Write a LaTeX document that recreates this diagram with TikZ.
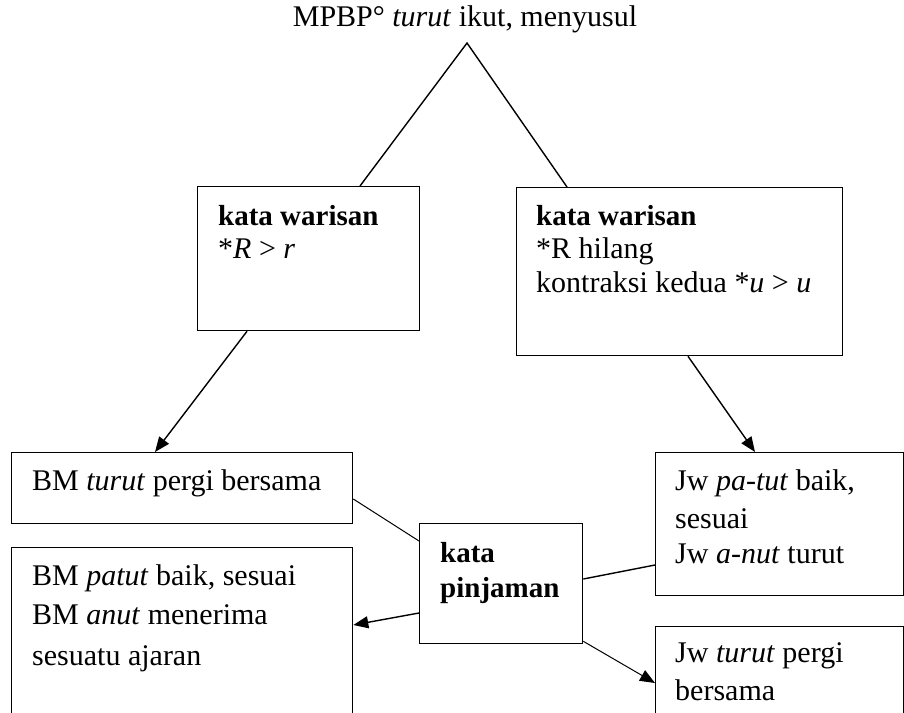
\documentclass[tikz,border=0pt]{standalone}
\usepackage{fontspec}
\setmainfont{Liberation Serif}
\usetikzlibrary{arrows.meta,calc}
\newcommand{\bld}[1]{{\fontsize{29}{34}\selectfont\bfseries #1}}
\begin{document}
\begin{tikzpicture}[x=1pt,y=-1pt,
  box/.style={draw,line width=1.3pt,rectangle,inner sep=0pt,anchor=north west},
  txt/.style={anchor=base west,inner sep=0pt,font=\fontsize{30}{34}\selectfont},
  thinline/.style={line width=1pt},
  midline/.style={line width=1.4pt},
  tip/.style={-{Triangle[length=15pt,width=12pt]}},
  arr/.style={line width=1.4pt,tip},
]
\useasboundingbox (0,0) rectangle (904,712);
\clip (0,0) rectangle (904,712);
% boxes
\node[box,minimum width=222pt,minimum height=144pt] (kw1) at (197,186) {};
\node[box,minimum width=326pt,minimum height=168pt] (kw2) at (516,187) {};
\node[box,minimum width=341pt,minimum height=71pt] (bm1) at (11,452) {};
\node[box,minimum width=341pt,minimum height=200pt] (bm2) at (11,547) {};
\node[box,minimum width=163pt,minimum height=120pt] (kp) at (419,523) {};
\node[box,minimum width=248pt,minimum height=143pt] (jw1) at (655,452) {};
\node[box,minimum width=248pt,minimum height=150pt] (jw2) at (655,626) {};
% texts
\node[txt,anchor=base] (title) at (465,27) {MPBP° \textit{turut} ikut, menyusul};
\node[txt] (kw1a) at (218,225) {\bld{kata warisan}};
\node[txt] (kw1b) at (218,258) {*\textit{R} > \textit{r}};
\node[txt] (kw2a) at (536,225) {\bld{kata warisan}};
\node[txt] (kw2b) at (536,258) {*R hilang};
\node[txt] (kw2c) at (536,292) {kontraksi kedua *\textit{u} > \textit{u}};
\node[txt] (bm1a) at (32,490) {BM \textit{turut} pergi bersama};
\node[txt] (bm2a) at (32,585) {BM \textit{patut} baik, sesuai};
\node[txt] (bm2b) at (32,624) {BM \textit{anut} menerima};
\node[txt] (bm2c) at (32,665) {sesuatu ajaran};
\node[txt] (kpa) at (440,562) {\bld{kata}};
\node[txt] (kpb) at (440,597) {\bld{pinjaman}};
\node[txt] (jw1a) at (675,490) {Jw \textit{pa-tut} baik,};
\node[txt] (jw1b) at (675,528) {sesuai};
\node[txt] (jw1c) at (675,563) {Jw \textit{a-nut} turut};
\node[txt] (jw2a) at (675,662) {Jw \textit{turut} pergi};
\node[txt] (jw2b) at (675,700) {bersama};
% connectors
\coordinate (apex) at (467,43);
\draw[midline] ($(kw1.north west)+(163,0)$) -- (apex) -- ($(kw2.north west)+(51,0)$);
\draw[arr] ($(kw1.south west)+(50,0)$) -- ($(bm1.north west)+(144,0)$);
\draw[arr] ($(kw2.south west)+(172,0)$) -- ($(jw1.north west)+(100,0)$);
\draw[thinline] ($(bm1.north east)+(0,47)$) -- ($(kp.north west)+(0,18)$);
\draw[midline] ($(kp.north east)+(0,56)$) -- ($(jw1.north west)+(0,113)$);
\draw[arr] ($(kp.north west)+(0,90)$) -- ($(bm2.north east)+(0,78)$);
\draw[thinline,tip] ($(kp.south east)+(0,-3)$) -- ($(jw2.north west)+(0,57)$);
\end{tikzpicture}
\end{document}
